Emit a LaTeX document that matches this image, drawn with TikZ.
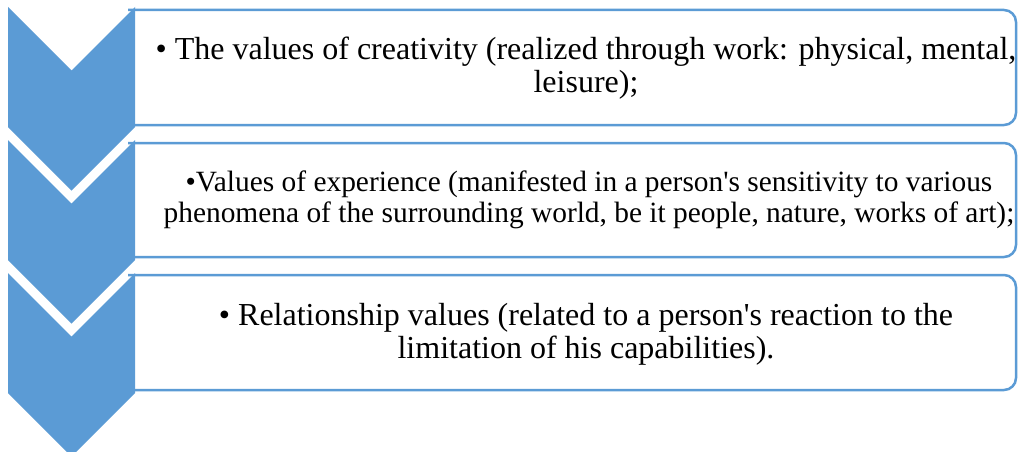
\documentclass[tikz,border=0pt]{standalone}
\usepackage{fontspec}
\setmainfont{Liberation Serif}[Ligatures=TeXOff]
\definecolor{chev}{RGB}{91,155,213}
\begin{document}
\begin{tikzpicture}[x=1pt,y=-1pt,
  chevron/.style={fill=chev,draw=none},
  box/.style={draw=chev,line width=2.5pt,fill=white},
  txt/.style={align=center,inner sep=0pt,font=\fontsize{32}{33}\selectfont},
  txtsmall/.style={align=center,inner sep=0pt,font=\fontsize{29.4}{30.5}\selectfont}]
\useasboundingbox (0,0) rectangle (1018,452);
% boxes
\draw[box] (128,10) [rounded corners=12pt] -- (1016,10) -- (1016,125) -- (128,125);
\draw[box] (128,143) [rounded corners=12pt] -- (1016,143) -- (1016,257) -- (128,257);
\draw[box] (128,275) [rounded corners=12pt] -- (1016,275) -- (1016,390) -- (128,390);
% chevrons
\fill[chevron] (8,7) -- (71.5,70.5) -- (135,7) -- (135,127) -- (71.5,190.5) -- (8,127) -- cycle;
\fill[chevron] (8,140) -- (71.5,203.5) -- (135,140) -- (135,260) -- (71.5,323.5) -- (8,260) -- cycle;
\fill[chevron] (8,273) -- (71.5,336.5) -- (135,273) -- (135,393) -- (71.5,456.5) -- (8,393) -- cycle;
% texts
\node[txt] (t1) at (586,68.5) {• The values of creativity (realized through work: physical, mental,\\ leisure);};
\node[txtsmall] (t2) at (589,200) {•Values of experience (manifested in a person's sensitivity to various\\ phenomena of the surrounding world, be it people, nature, works of art);};
\node[txt] (t3) at (586,334) {• Relationship values (related to a person's reaction to the\\ limitation of his capabilities).};
\end{tikzpicture}
\end{document}
